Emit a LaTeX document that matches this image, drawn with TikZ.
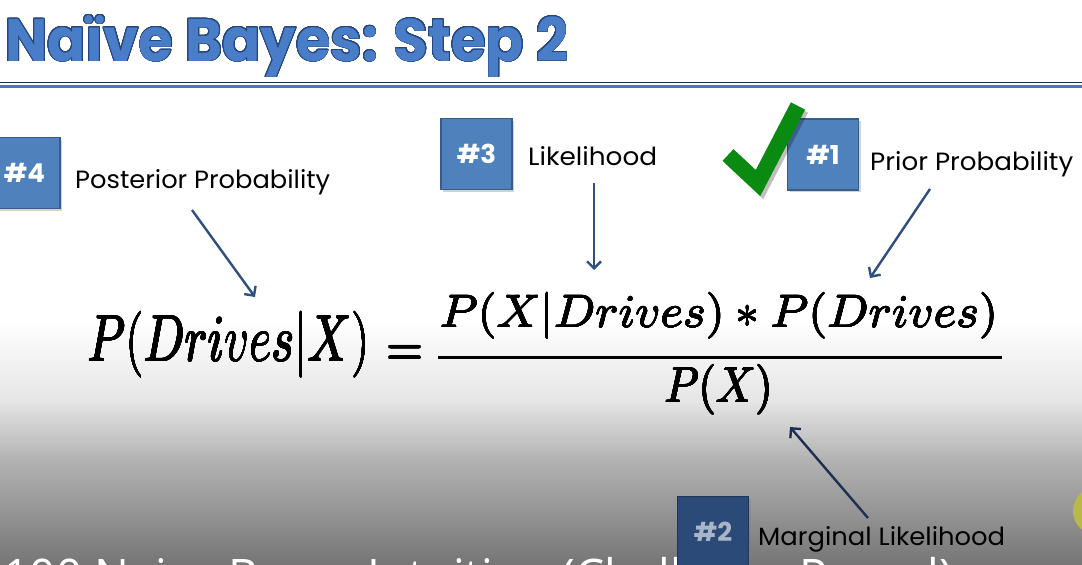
\documentclass[tikz,border=0pt]{standalone}
\usepackage{fontspec}
\usepackage{contour}
\usetikzlibrary{arrows.meta,shadows}
\newfontfamily\popfont{Poppins}
\newfontfamily\subfont{Open Sans}
\definecolor{titleblue}{HTML}{4A7DC8}
\definecolor{titleedge}{HTML}{24467E}
\definecolor{boxblue}{HTML}{4F81BD}
\definecolor{boxedge}{HTML}{385D8A}
\definecolor{darkbox}{HTML}{2B4A77}
\definecolor{darkboxedge}{HTML}{1E3556}
\definecolor{darkboxtext}{HTML}{A9B5C9}
\definecolor{arrowblue}{HTML}{2E4F80}
\definecolor{arrowdark}{HTML}{1E3050}
\definecolor{checkgreen}{HTML}{0B8A12}
\definecolor{ruledark}{HTML}{1C2E4E}
\definecolor{ruleblue}{HTML}{4677C4}
\definecolor{cursor}{HTML}{B9B94A}
\contourlength{0.9pt}
\contournumber{24}
\newcommand{\lbltext}[2]{\resizebox{#1}{19pt}{#2}}
\newcommand{\heavymath}[1]{{\contourlength{0.07pt}\contournumber{16}\contour{black}{$#1$}}}
\begin{document}
\begin{tikzpicture}[x=1pt,y=-1pt,
  numbox/.style={draw=boxedge, line width=1.5pt, fill=boxblue, minimum width=71pt, minimum height=71pt, inner sep=0pt, text=white, font=\popfont\bfseries\fontsize{26}{26}\selectfont, drop shadow={opacity=0.35, shadow xshift=2pt, shadow yshift=-2pt}},
  lbl/.style={anchor=base west, inner sep=0pt, font=\popfont\fontsize{24}{24}\selectfont},
  ptr/.style={draw=arrowblue, line width=2.4pt, -{Straight Barb[length=7pt,width=14pt,line width=2.4pt]}},
]
\useasboundingbox (0,0) rectangle (1082,565);
\clip (0,0) rectangle (1082,565);
% background
\fill[white] (0,0) rectangle (1082,565);
\shade[top color=white, bottom color=black!10] (0,320) rectangle (1082,400);
\shade[top color=black!10, bottom color=black!30] (0,400) rectangle (1082,460);
\shade[top color=black!30, bottom color=black!54] (0,460) rectangle (1082,565);
% title
\node[anchor=base west, inner sep=0pt] (title) at (5,61)
  {\resizebox{563pt}{46pt}{\popfont\bfseries\fontsize{60}{60}\selectfont\color{titleblue}\contour{titleedge}{Naïve Bayes: Step 2}}};
\coordinate (ruleL1) at (0,82.5); \coordinate (ruleR1) at (1082,82.5);
\coordinate (ruleL2) at (0,86.5); \coordinate (ruleR2) at (1082,86.5);
\draw[ruledark, line width=1.6pt] (ruleL1) -- (ruleR1);
\draw[ruleblue, line width=3.5pt] (ruleL2) -- (ruleR2);
% boxes and labels
\node[numbox] (b4) at (24.5,173) {\#4};
\node[numbox] (b3) at (476.5,154) {\#3};
\node[numbox] (b1) at (823,154.5) {\#1};
\node[lbl] (post) at (75,188) {\lbltext{255pt}{Posterior Probability}};
\node[lbl] (lik) at (528,165) {\lbltext{129pt}{Likelihood}};
\node[lbl] (prior) at (870,170) {\lbltext{203pt}{Prior Probability}};
% check mark
\draw[black, opacity=0.25, line width=16pt, line join=miter] (731,158) -- (761,186) -- (801,109);
\draw[checkgreen, line width=16pt, line join=miter] (728,155) -- (758,183) -- (798,106);
% formula
\node[inner sep=0pt] (lhs) at (229,345) {\resizebox*{282pt}{66pt}{\heavymath{P(Drives|X)}}};
\node[inner sep=0pt, anchor=base] (eq) at (405,366) {\resizebox{36pt}{20pt}{\heavymath{=}}};
\node[inner sep=0pt] (num) at (719,316) {\resizebox*{558pt}{46pt}{\heavymath{P(X|Drives)*P(Drives)}}};
\node[inner sep=0pt] (den) at (719,390) {\resizebox*{108pt}{50pt}{\heavymath{P(X)}}};
\coordinate (barL) at (438,357); \coordinate (barR) at (1002,357);
\draw[line width=3pt] (barL) -- (barR);
% arrows
\coordinate (postT) at (192,210); \coordinate (postH) at (255,297);
\coordinate (likT) at (594,183); \coordinate (likH) at (594,270);
\coordinate (priorT) at (930,189); \coordinate (priorH) at (870,278);
\coordinate (margT) at (868,518); \coordinate (margH) at (790,427);
\draw[ptr] (postT) -- (postH);
\draw[ptr] (likT) -- (likH);
\draw[ptr] (priorT) -- (priorH);
\draw[ptr, draw=arrowdark] (margT) -- (margH);
% video overlay caption
\node[anchor=base west, inner sep=0pt, text=white] (caption) at (3,592)
  {\resizebox{950pt}{!}{\subfont\fontsize{40}{40}\selectfont 100 Naive Bayes Intuition (Challenge Reveal)}};
\fill[cursor] (1097,511) circle (24);
% box 2
\node[numbox, fill=darkbox, draw=darkboxedge, text=darkboxtext] (b2) at (713,532) {\#2};
\node[lbl] (marg) at (758,545) {\lbltext{247pt}{Marginal Likelihood}};
\end{tikzpicture}
\end{document}
